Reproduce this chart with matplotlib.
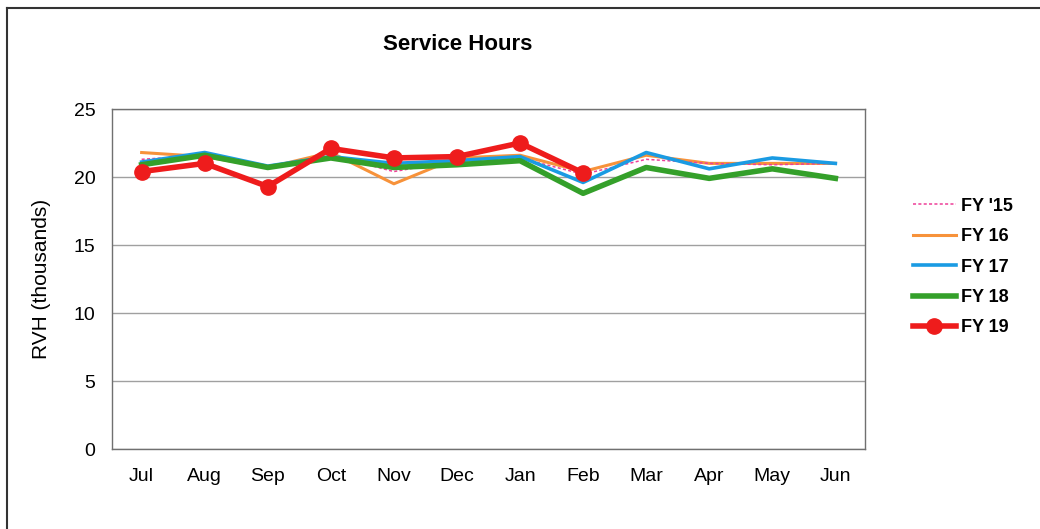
import numpy as np
import matplotlib
matplotlib.use("Agg")
import matplotlib.pyplot as plt
from matplotlib.lines import Line2D

plt.rcParams['font.family'] = ['Liberation Sans', 'DejaVu Sans']

months = ["Jul", "Aug", "Sep", "Oct", "Nov", "Dec", "Jan", "Feb", "Mar", "Apr", "May", "Jun"]

fy15 = [21.3, 21.6, 20.8, 21.6, 20.4, 21.2, 21.4, 20.2, 21.3, 21.0, 20.9, 21.0]
fy16 = [21.8, 21.5, 20.7, 21.8, 19.5, 21.4, 21.6, 20.4, 21.6, 21.0, 21.0, 21.0]
fy17 = [21.1, 21.8, 20.8, 21.5, 21.0, 21.2, 21.5, 19.6, 21.8, 20.6, 21.4, 21.0]
fy18 = [20.9, 21.6, 20.7, 21.4, 20.7, 20.9, 21.2, 18.8, 20.7, 19.9, 20.6, 19.9]
fy19 = [20.4, 21.0, 19.3, 22.1, 21.4, 21.5, 22.5, 20.3]

fig = plt.figure(figsize=(10.4, 5.29), dpi=100)
ax = fig.add_axes([112/1040, 1-449/529, (865-112)/1040, (449-109)/529])

x = np.arange(len(months))
ax.plot(x, fy15, color="#ee3f98", lw=1.1, ls=(0, (2, 1.5)), label="FY '15", zorder=3)
ax.plot(x, fy16, color="#f7923a", lw=2.2, label="FY 16", zorder=2)
ax.plot(x, fy17, color="#1a9be3", lw=2.6, label="FY 17", zorder=4)
ax.plot(x, fy18, color="#34a02a", lw=4.0, label="FY 18", zorder=5)
ax.plot(np.arange(len(fy19)), fy19, color="#ee1c1c", lw=4.0, marker="o", ms=11,
        label="FY 19", zorder=6)

ax.set_xlim(-0.47, 11.47)
ax.set_ylim(0, 25)
ax.set_yticks([0, 5, 10, 15, 20, 25])
ax.set_xticks(x)
ax.set_xticklabels(months)
ax.tick_params(length=0, labelsize=14, pad=14)
ax.tick_params(axis="y", pad=12)
ax.yaxis.grid(True, color="#a0a0a0", lw=1.0)
ax.set_axisbelow(True)
for s in ax.spines.values():
    s.set_color("#707070")
    s.set_linewidth(1.0)

ax.set_ylabel("RVH (thousands)", fontsize=15, labelpad=16)
fig.text(458/1040, 1-44/529, "Service Hours", ha="center", va="center",
         fontsize=16, fontweight="bold")

leg = fig.legend(loc="center left", bbox_to_anchor=(897/1040, 1-267/529),
                 frameon=False, handlelength=2.35, handletextpad=0.3,
                 labelspacing=0.74, numpoints=1, prop={"weight": "bold", "size": 13})

# outer frame of the chart box
fig.add_artist(Line2D([7/1040, 7/1040], [0, 1-8/529], color="#333333", lw=1.5))
fig.add_artist(Line2D([7/1040, 1], [1-8/529, 1-8/529], color="#333333", lw=1.5))

fig.savefig("out.png", dpi=100)
